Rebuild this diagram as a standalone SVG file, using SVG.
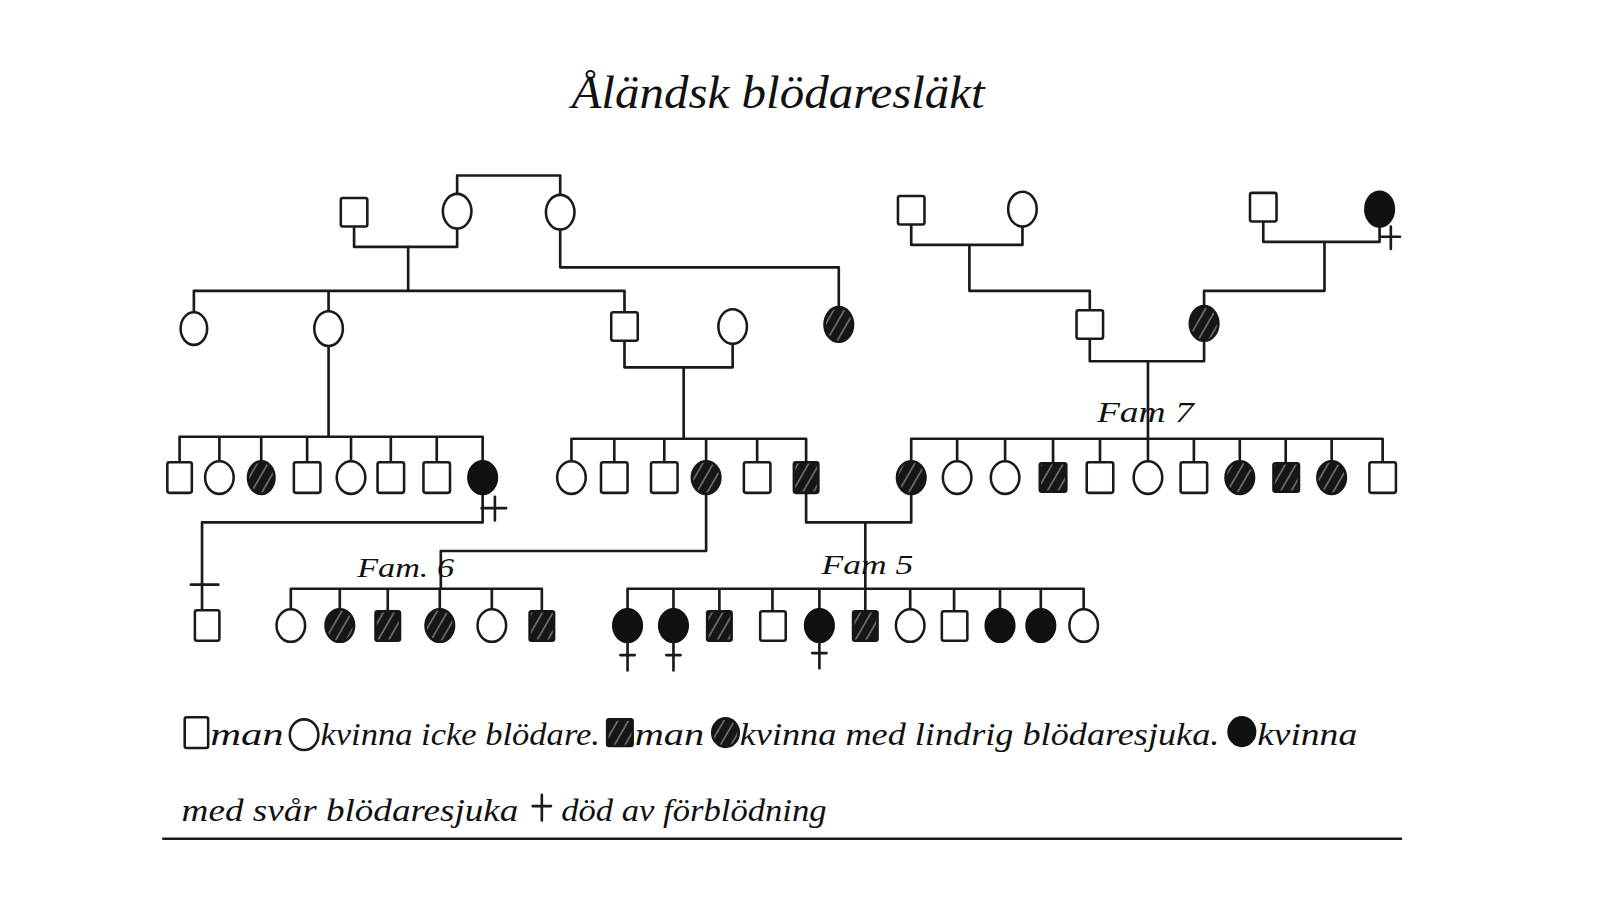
<svg xmlns="http://www.w3.org/2000/svg" width="1600" height="900" viewBox="0 0 1600 900">
<defs>
<pattern id="hatch" patternUnits="userSpaceOnUse" width="9" height="9" patternTransform="rotate(30)">
<rect width="9" height="9" fill="#161616"/>
<line x1="4.5" y1="0" x2="4.5" y2="9" stroke="#9a9a9a" stroke-width="1.1"/>
</pattern>
<style>
.ln{fill:none;stroke:#1a1a1a;stroke-width:2.6;stroke-linejoin:round;stroke-linecap:round}
.m{fill:#fff;stroke:#1a1a1a;stroke-width:2.5}
.f{fill:#fff;stroke:#1a1a1a;stroke-width:2.5}
.h{fill:url(#hatch);stroke:#161616;stroke-width:2.5}
.b{fill:#111;stroke:#111;stroke-width:2.5}
.t{font-family:"Liberation Serif","DejaVu Serif",serif;font-style:italic;fill:#111}
</style>
</defs>
<rect width="1600" height="900" fill="#fff"/>
<g transform="scale(1.020408)">
<text class="t" x="560" y="106" font-size="46" textLength="405" lengthAdjust="spacingAndGlyphs">Åländsk blödaresläkt</text>

<g id="connectors" class="ln">
<path d="M448,191 V172 H549 V191"/>
<path d="M347,222 V242 H448 V224"/>
<path d="M400,242 V285"/>
<path d="M190,306 V285 H612 V306 M322,285 V305"/>
<path d="M549,225 V262 H822 V302"/>
<path d="M612,334 V360 H718 V337 M670,360 V430"/>
<path d="M322,339 V428"/>
<path d="M176,453 V428 H473 V452 M215,428 V452 M256,428 V452 M301,428 V453 M344,428 V452 M383,428 V453 M428,428 V453"/>
<path d="M560,452 V430 H790 V453 M602,430 V453 M651,430 V453 M692,430 V452 M742,430 V453"/>
<path d="M893,220 V240 H1002 V222 M950,240 V285 H1068 V304"/>
<path d="M1238,217 V237 H1352 V222 M1298,237 V285 H1180 V301"/>
<path d="M1068,332 V354 H1180 V333 M1125,354 V452"/>
<path d="M893,452 V430 H1355 V453 M938,430 V452 M985,430 V452 M1032,430 V453 M1078,430 V453 M1170,430 V453 M1215,430 V452 M1260,430 V453 M1305,430 V452"/>
<path d="M473,484 V512 H198 V598 M187,573 H214"/>
<path d="M692,484 V540 H432 V577"/>
<path d="M790,483 V512 H893 V484 M848,512 V598"/>
<path d="M285,597 V577 H531 V598 M333,577 V597 M380,577 V598 M431,577 V597 M482,577 V597"/>
<path d="M615,597 V577 H1062 V597 M660,577 V597 M705,577 V598 M757,577 V598 M803,577 V597 M892,577 V597 M935,577 V598 M980,577 V597 M1020,577 V597"/>
</g>

<g id="g1-left">
<rect id="n-a" class="m" x="334" y="194" width="26" height="28" rx="2"/>
<ellipse id="n-b" class="f" cx="448" cy="207" rx="14" ry="17"/>
<ellipse id="n-c" class="f" cx="549" cy="208" rx="14" ry="17"/>
</g>
<g id="g1-right">
<rect id="n-d" class="m" x="880" y="192" width="26" height="28" rx="2"/>
<ellipse id="n-e" class="f" cx="1002" cy="205" rx="14" ry="17"/>
<rect id="n-f" class="m" x="1225" y="189" width="26" height="28" rx="2"/>
<g id="n-g"><ellipse class="b" cx="1352" cy="205" rx="14" ry="17"/><path class="ln" d="M1363,222 V244 M1354,232 H1372"/></g>
</g>
<g id="g2">
<ellipse id="n-h" class="f" cx="190" cy="322" rx="13" ry="16"/>
<ellipse id="n-i" class="f" cx="322" cy="322" rx="14" ry="17"/>
<rect id="n-j" class="m" x="599" y="306" width="26" height="28" rx="2"/>
<ellipse id="n-k" class="f" cx="718" cy="320" rx="14" ry="17"/>
<ellipse id="n-l" class="h" cx="822" cy="318" rx="14" ry="17"/>
<rect id="n-m" class="m" x="1055" y="304" width="26" height="28" rx="2"/>
<ellipse id="n-n" class="h" cx="1180" cy="317" rx="14" ry="17"/>
</g>
<g id="g3-left">
<rect class="m" x="164" y="453" width="24" height="30" rx="2"/>
<ellipse class="f" cx="215" cy="468" rx="14" ry="16"/>
<ellipse class="h" cx="256" cy="468" rx="13" ry="16"/>
<rect class="m" x="288" y="453" width="26" height="30" rx="2"/>
<ellipse class="f" cx="344" cy="468" rx="14" ry="16"/>
<rect class="m" x="370" y="453" width="26" height="30" rx="2"/>
<rect class="m" x="415" y="453" width="26" height="30" rx="2"/>
<g><ellipse class="b" cx="473" cy="468" rx="14" ry="16"/><path class="ln" d="M485,487 V510 M472,498 H496"/></g>
</g>
<g id="g3-mid">
<ellipse class="f" cx="560" cy="468" rx="14" ry="16"/>
<rect class="m" x="589" y="453" width="26" height="30" rx="2"/>
<rect class="m" x="638" y="453" width="26" height="30" rx="2"/>
<ellipse class="h" cx="692" cy="468" rx="14" ry="16"/>
<rect class="m" x="729" y="453" width="26" height="30" rx="2"/>
<rect class="h" x="778" y="453" width="24" height="30" rx="2"/>
</g>
<g id="fam7">
<text class="t" x="1075" y="414" font-size="28" textLength="95" lengthAdjust="spacingAndGlyphs">Fam 7</text>
<ellipse class="h" cx="893" cy="468" rx="14" ry="16"/>
<ellipse class="f" cx="938" cy="468" rx="14" ry="16"/>
<ellipse class="f" cx="985" cy="468" rx="14" ry="16"/>
<rect class="h" x="1019" y="454" width="26" height="28" rx="2"/>
<rect class="m" x="1065" y="453" width="26" height="30" rx="2"/>
<ellipse class="f" cx="1125" cy="468" rx="14" ry="16"/>
<rect class="m" x="1157" y="453" width="26" height="30" rx="2"/>
<ellipse class="h" cx="1215" cy="468" rx="14" ry="16"/>
<rect class="h" x="1248" y="454" width="25" height="28" rx="2"/>
<ellipse class="h" cx="1305" cy="468" rx="14" ry="16"/>
<rect class="m" x="1342" y="453" width="26" height="30" rx="2"/>
</g>
<g id="g4-single">
<rect class="m" x="191" y="598" width="24" height="30" rx="2"/>
</g>
<g id="fam6">
<text class="t" x="350" y="565" font-size="26" textLength="95" lengthAdjust="spacingAndGlyphs">Fam. 6</text>
<ellipse class="f" cx="285" cy="613" rx="14" ry="16"/>
<ellipse class="h" cx="333" cy="613" rx="14" ry="16"/>
<rect class="h" x="368" y="599" width="24" height="29" rx="2"/>
<ellipse class="h" cx="431" cy="613" rx="14" ry="16"/>
<ellipse class="f" cx="482" cy="613" rx="14" ry="16"/>
<rect class="h" x="519" y="599" width="24" height="29" rx="2"/>
</g>
<g id="fam5">
<text class="t" x="805" y="563" font-size="26" textLength="90" lengthAdjust="spacingAndGlyphs">Fam 5</text>
<g><ellipse class="b" cx="615" cy="613" rx="14" ry="16"/><path class="ln" d="M615,629 V657 M608,642 H622"/></g>
<g><ellipse class="b" cx="660" cy="613" rx="14" ry="16"/><path class="ln" d="M660,629 V657 M653,642 H667"/></g>
<rect class="h" x="693" y="599" width="24" height="29" rx="2"/>
<rect class="m" x="745" y="599" width="25" height="29" rx="2"/>
<g><ellipse class="b" cx="803" cy="613" rx="14" ry="16"/><path class="ln" d="M803,629 V655 M796,640 H810"/></g>
<rect class="h" x="836" y="599" width="24" height="29" rx="2"/>
<ellipse class="f" cx="892" cy="613" rx="14" ry="16"/>
<rect class="m" x="923" y="599" width="25" height="29" rx="2"/>
<ellipse class="b" cx="980" cy="613" rx="14" ry="16"/>
<ellipse class="b" cx="1020" cy="613" rx="14" ry="16"/>
<ellipse class="f" cx="1062" cy="613" rx="14" ry="16"/>
</g>
<g id="legend">
<rect class="m" x="181" y="703" width="23" height="30" rx="2"/>
<text class="t" x="206" y="730" font-size="30" textLength="72" lengthAdjust="spacingAndGlyphs">man</text>
<ellipse class="f" cx="298" cy="720" rx="14" ry="15"/>
<text class="t" x="314" y="730" font-size="30" textLength="274" lengthAdjust="spacingAndGlyphs">kvinna icke blödare.</text>
<rect class="h" x="595" y="705" width="25" height="26" rx="2"/>
<text class="t" x="622" y="730" font-size="30" textLength="68" lengthAdjust="spacingAndGlyphs">man</text>
<ellipse class="h" cx="711" cy="718" rx="13" ry="14"/>
<text class="t" x="725" y="730" font-size="30" textLength="470" lengthAdjust="spacingAndGlyphs">kvinna med lindrig blödaresjuka.</text>
<ellipse class="b" cx="1217" cy="717" rx="13" ry="14"/>
<text class="t" x="1232" y="730" font-size="30" textLength="98" lengthAdjust="spacingAndGlyphs">kvinna</text>
<text class="t" x="178" y="805" font-size="30" textLength="330" lengthAdjust="spacingAndGlyphs">med svår blödaresjuka</text>
<path class="ln" d="M531,779 V804 M522,790 H540"/>
<text class="t" x="550" y="805" font-size="30" textLength="260" lengthAdjust="spacingAndGlyphs">död av förblödning</text>
<path class="ln" d="M160,822 H1373"/>
</g>
</g>
</svg>
